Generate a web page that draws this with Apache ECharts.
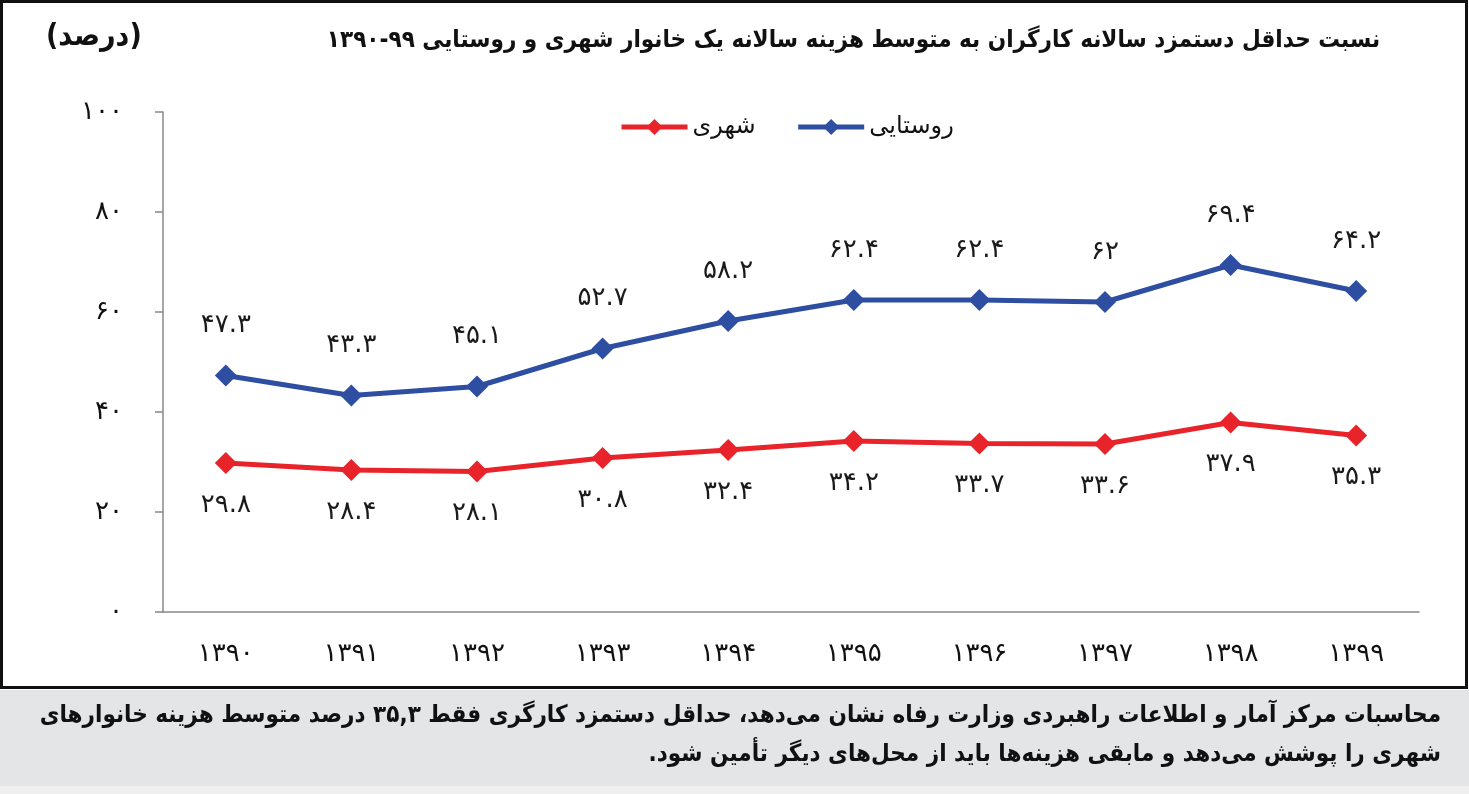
<!DOCTYPE html>
<html>
<head>
<meta charset="utf-8">
<style>
html, body { margin: 0; padding: 0; background: #fff; }
#chart { width: 1469px; height: 794px; }
</style>
<script src="https://cdn.jsdelivr.net/npm/echarts@6/dist/echarts.min.js"></script>
</head>
<body>
<div id="chart" dir="rtl"></div>
<script>
// داده‌ها
var years = ['۱۳۹۰', '۱۳۹۱', '۱۳۹۲', '۱۳۹۳', '۱۳۹۴', '۱۳۹۵', '۱۳۹۶', '۱۳۹۷', '۱۳۹۸', '۱۳۹۹'];
var rural = [47.3, 43.3, 45.1, 52.7, 58.2, 62.4, 62.4, 62, 69.4, 64.2];
var urban = [29.8, 28.4, 28.1, 30.8, 32.4, 34.2, 33.7, 33.6, 37.9, 35.3];
var seriesNames = ['شهری', 'روستایی'];
var titleText = 'نسبت حداقل دستمزد سالانه کارگران به متوسط هزینه سالانه یک خانوار شهری و روستایی ۹۹-۱۳۹۰';
var unitText = '(درصد)';
var noteLines = [
	'محاسبات مرکز آمار و اطلاعات راهبردی وزارت رفاه نشان می‌دهد، حداقل دستمزد کارگری فقط ۳۵,۳ درصد متوسط هزینه خانوارهای',
	'شهری را پوشش می‌دهد و مابقی هزینه‌ها باید از محل‌های دیگر تأمین شود.'
];

var FONT = '"DejaVu Sans", sans-serif';
var FONT_C = '"DejaVu Sans Condensed", "DejaVu Sans", sans-serif';

function toFa(v) {
	return String(v).replace(/\d/g, function (d) { return '۰۱۲۳۴۵۶۷۸۹'[d]; });
}

var myChart = echarts.init(document.getElementById('chart'));

myChart.setOption({
	backgroundColor: '#fff',
	animation: false,
	title: {
		text: titleText,
		right: 84,
		top: 24,
		textStyle: { fontFamily: FONT_C, fontWeight: 'bold', fontSize: 24, color: '#111' }
	},
	legend: {
		data: seriesNames,
		left: 614,
		top: 110,
		itemWidth: 66,
		itemHeight: 20,
		itemGap: 40,
		lineStyle: { width: 5 },
		textStyle: { fontFamily: FONT, fontSize: 24, color: '#111' }
	},
	grid: { left: 163, right: 50, top: 112, bottom: 182 },
	xAxis: {
		type: 'category',
		data: years,
		axisLine: { lineStyle: { color: '#888', width: 1.5 } },
		axisTick: { length: 9, lineStyle: { color: '#888', width: 1.5 } },
		axisLabel: { margin: 29, fontFamily: FONT, fontSize: 26, color: '#111' }
	},
	yAxis: {
		type: 'value',
		min: 0,
		max: 100,
		interval: 20,
		splitLine: { show: false },
		axisLine: { show: true, lineStyle: { color: '#888', width: 1.5 } },
		axisTick: { show: true, length: 8, lineStyle: { color: '#888', width: 1.5 } },
		axisLabel: {
			margin: 40, fontFamily: FONT, fontSize: 26, color: '#111',
			formatter: function (v) { return toFa(v); }
		}
	},
	series: [{
		name: seriesNames[0],
		type: 'line',
		data: urban,
		symbol: 'diamond',
		symbolSize: 22,
		color: '#e8232a',
		lineStyle: { width: 5, color: '#e8232a' },
		label: {
			show: true, position: 'bottom', distance: 18,
			fontFamily: FONT, fontSize: 26, color: '#1a1a1a',
			formatter: function (p) { return toFa(p.value); }
		}
	}, {
		name: seriesNames[1],
		type: 'line',
		data: rural,
		symbol: 'diamond',
		symbolSize: 22,
		color: '#2e4ea2',
		lineStyle: { width: 5, color: '#2e4ea2' },
		label: {
			show: true, position: 'top', distance: 26,
			fontFamily: FONT, fontSize: 26, color: '#1a1a1a',
			formatter: function (p) { return toFa(p.value); }
		}
	}],
	graphic: [
		{ type: 'rect', z: -1, shape: { x: 0, y: 690, width: 1469, height: 96 }, style: { fill: '#e4e5e7' } },
		{ type: 'rect', z: -1, shape: { x: 0, y: 786, width: 1469, height: 8 }, style: { fill: '#efeff0' } },
		{ type: 'rect', shape: { x: 1.5, y: 1.5, width: 1465, height: 686 }, style: { fill: 'none', stroke: '#111', lineWidth: 3 } },
		{
			type: 'text', left: 46, top: 22,
			style: { text: unitText, font: 'bold 30px ' + FONT_C, fill: '#111' }
		},
		{
			type: 'text', right: 28, top: 704,
			style: { text: noteLines[0], font: 'bold 24px ' + FONT_C, fill: '#111', textAlign: 'right' }
		},
		{
			type: 'text', right: 28, top: 743,
			style: { text: noteLines[1], font: 'bold 24px ' + FONT_C, fill: '#111', textAlign: 'right' }
		}
	]
});
</script>
</body>
</html>
